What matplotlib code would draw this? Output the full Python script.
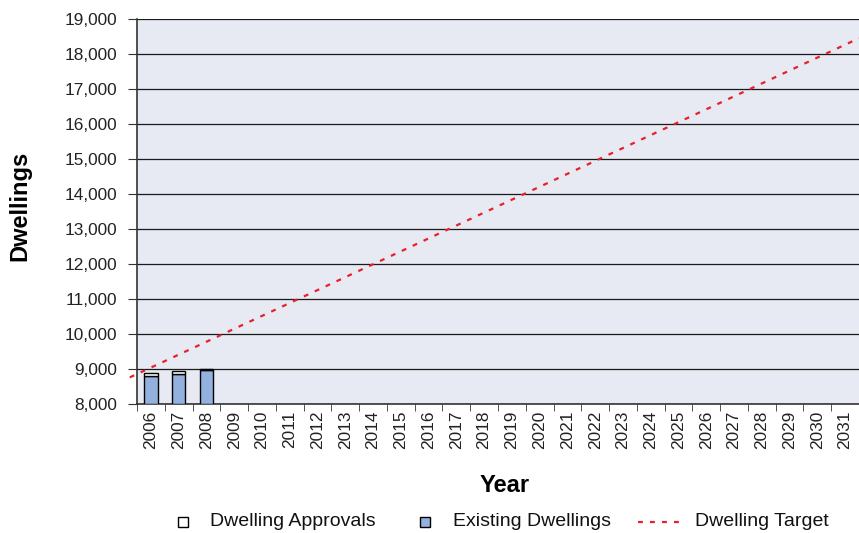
import matplotlib
matplotlib.use("Agg")
import matplotlib.pyplot as plt
from matplotlib.lines import Line2D
from matplotlib.patches import Rectangle
import numpy as np

plt.rcParams['font.family'] = ['Liberation Sans', 'DejaVu Sans']

years = list(range(2006, 2032))
bar_years = [2006, 2007, 2008]
existing = [8800, 8850, 8965]
approvals = [100, 95, 30]
target_years = [2005.24, 2031.5]
target_vals = [8760, 18450]
yticks = list(range(8000, 19001, 1000))

W, H = 859, 533
fig = plt.figure(figsize=(W / 100, H / 100), dpi=100)
ax = fig.add_axes([137/W, 1-404/H, (W-137)/W, (404-19)/H])
ax.set_facecolor('#E7E9F3')

bar_color = '#93B1DE'
red = '#E8202A'
dash = (0, (2.2, 3.2))

pos = [y - 2006 for y in bar_years]
ax.bar(pos, [e - 8000 for e in existing], bottom=8000, width=0.48,
       color=bar_color, edgecolor='black', linewidth=1.0, zorder=3)
ax.bar(pos, approvals, bottom=existing, width=0.48,
       color='white', edgecolor='black', linewidth=1.0, zorder=3)

tx = [y - 2006 for y in target_years]
ax.plot(tx, target_vals, color=red, linestyle=dash,
        linewidth=1.6, zorder=4, clip_on=False)

ax.set_xlim(-0.5, len(years) - 0.5)
ax.set_ylim(8000, 19000)
ax.set_yticks(yticks)
ax.set_yticklabels([f"{v:,}" for v in yticks], fontsize=12.4, color='#222222')
ax.yaxis.grid(True, color='#1a1a1a', linewidth=0.9, zorder=1)
ax.set_axisbelow(True)

ax.set_xticks(np.arange(len(years)))
ax.set_xticklabels([str(y) for y in years], rotation=90, fontsize=12.4, color='#222222')
ax.set_xticks(np.arange(len(years)) - 0.5, minor=True)
ax.tick_params(axis='x', which='major', length=0, pad=5)
ax.tick_params(axis='x', which='minor', length=5, color='#333333', direction='out')
ax.tick_params(axis='y', length=6.5, color='#333333', direction='out', pad=8)

for s in ['top', 'right']:
    ax.spines[s].set_visible(False)
for s in ['left', 'bottom']:
    ax.spines[s].set_color('#333333')
    ax.spines[s].set_linewidth(1.2)

fig.text(20/W, 1-206/H, 'Dwellings', rotation=90, fontsize=17, fontweight='bold',
         ha='center', va='center')
fig.text(505/W, 1-486/H, 'Year', fontsize=17, fontweight='bold',
         ha='center', va='center')

# legend (manual placement)
ly = 1 - 522/H
sq = 10
for x0, fc in [(178, 'white'), (420, bar_color)]:
    fig.add_artist(Rectangle((x0/W, ly - sq/2/H), sq/W, sq/H, transform=fig.transFigure,
                             facecolor=fc, edgecolor='black', linewidth=1.0))
fig.add_artist(Line2D([638/W, 682/W], [ly, ly], transform=fig.transFigure,
                      color=red, linestyle=dash, linewidth=1.6))
for x0, t in [(210, 'Dwelling Approvals'), (453, 'Existing Dwellings'), (695, 'Dwelling Target')]:
    fig.text(x0/W, ly, t, fontsize=14, ha='left', va='center', color='#111111')

fig.savefig('out.png', dpi=100)
